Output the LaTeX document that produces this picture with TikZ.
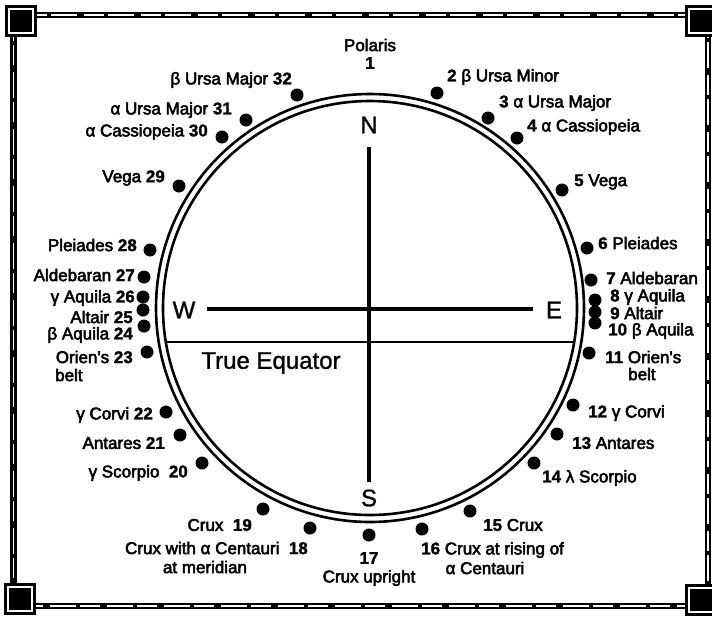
\documentclass[tikz,border=0pt]{standalone}
\usepackage{fontspec}
\setmainfont{Liberation Sans}
\newfontface\medfont{Liberation Sans}[FakeBold=3]
\newfontface\numfont{Liberation Sans Bold}[FakeBold=1.5]
\newfontface\cardfont{Liberation Sans}[FakeBold=1.2]
\newcommand{\stnum}[1]{{\numfont #1}}
\begin{document}
\begin{tikzpicture}[x=1pt,y=-1pt,
  stardot/.style={circle,fill=black,inner sep=0pt,minimum size=13pt},
  lab/.style={font=\medfont\fontsize{17}{19}\selectfont,inner sep=0pt},
  labR/.style={lab,anchor=west},
  labL/.style={lab,anchor=east},
  cardinal/.style={font=\cardfont\fontsize{24}{28}\selectfont,inner sep=0pt},
  rimline/.style={line width=2.6pt},
  axisline/.style={line width=3.8pt},
  eqline/.style={line width=2.1pt},
]
\useasboundingbox (0,0) rectangle (712,616);
% frame
\draw[line width=6.5pt] (13.5,15) rectangle (708,606);
\draw[white,line width=1.2pt,dash pattern=on 26pt off 4pt on 20pt off 7pt] (13.5,15) rectangle (708,606);
\foreach \cx/\cy in {21/21,701/21,20/599,701/600}{
  \fill[black] (\cx-16,\cy-16) rectangle (\cx+16,\cy+16);
  \fill[white] (\cx-13,\cy-13) rectangle (\cx+13,\cy+13);
  \fill[black] (\cx-11,\cy-11) rectangle (\cx+11,\cy+11);
}
% circle
\coordinate (O) at (370,308);
\draw[rimline] (O) circle[radius=214];
\draw[rimline] (O) circle[radius=207];
% axes
\coordinate (eqL) at (165.8,342);
\coordinate (eqR) at (574.2,342);
\draw[eqline] (eqL) -- (eqR);
\coordinate (ewL) at (207,309);
\coordinate (ewR) at (533,309);
\draw[axisline] (ewL) -- (ewR);
\coordinate (nsT) at (369,147);
\coordinate (nsB) at (369,482);
\draw[axisline] (nsT) -- (nsB);
\node[cardinal] (N) at (369,125) {N};
\node[cardinal] (S) at (369,498) {S};
\node[cardinal] (W) at (184,310) {W};
\node[cardinal] (E) at (554,310) {E};
\node[cardinal] (TE) at (271,363) {True Equator};
% Polaris
\node[lab] (l1a) at (370,45) {Polaris};
\node[lab] (l1) at (370,63) {\stnum{1}};
% right side
\node[stardot] (d2) at (437,93) {};   \node[labR] (l2) at (447,77) {\stnum{2} β Ursa Minor};
\node[stardot] (d3) at (488,118) {};  \node[labR] (l3) at (499,103) {\stnum{3} α Ursa Major};
\node[stardot] (d4) at (517,138) {};  \node[labR] (l4) at (527,127) {\stnum{4} α Cassiopeia};
\node[stardot] (d5) at (562,190) {};  \node[labR] (l5) at (574,182) {\stnum{5} Vega};
\node[stardot] (d6) at (587,248) {};  \node[labR] (l6) at (598,243) {\stnum{6} Pleiades};
\node[stardot] (d7) at (591,280) {};  \node[labR] (l7) at (606,278) {\stnum{7} Aldebaran};
\node[stardot] (d8) at (595,300) {};  \node[labR] (l8) at (610,297) {\stnum{8} γ Aquila};
\node[stardot] (d9) at (595,312) {};  \node[labR] (l9) at (610,313) {\stnum{9} Altair};
\node[stardot] (d10) at (595,323) {}; \node[labR] (l10) at (608,331) {\stnum{10} β Aquila};
\node[stardot] (d11) at (589,353) {}; \node[labR] (l11) at (605,357) {\stnum{11} Orien's};
\node[labR] (l11b) at (628,374) {belt};
\node[stardot] (d12) at (573,405) {}; \node[labR] (l12) at (588,413) {\stnum{12} γ Corvi};
\node[stardot] (d13) at (557,434) {}; \node[labR] (l13) at (572,443) {\stnum{13} Antares};
\node[stardot] (d14) at (534,463) {}; \node[labR] (l14) at (542,478) {\stnum{14} λ Scorpio};
\node[stardot] (d15) at (470,511) {}; \node[labR] (l15) at (483,525) {\stnum{15} Crux};
\node[stardot] (d16) at (422,529) {}; \node[labR] (l16) at (421,550) {\stnum{16} Crux at rising of};
\node[lab] (l16b) at (485,568) {α Centauri};
\node[stardot] (d17) at (369,535) {}; \node[lab] (l17) at (369,558) {\stnum{17}};
\node[lab] (l17b) at (369,578) {Crux upright};
% left side
\node[stardot] (d18) at (310,528) {}; \node[labL] (l18) at (308,548) {Crux with α Centauri\ \ \stnum{18}};
\node[lab] (l18b) at (205,567) {at meridian};
\node[stardot] (d19) at (263,509) {}; \node[labL] (l19) at (252,525) {Crux\ \ \stnum{19}};
\node[stardot] (d20) at (202,463) {}; \node[labL] (l20) at (188,473) {γ Scorpio\ \ \stnum{20}};
\node[stardot] (d21) at (180,435) {}; \node[labL] (l21) at (165,443) {Antares \stnum{21}};
\node[stardot] (d22) at (166,412) {}; \node[labL] (l22) at (153,415) {γ Corvi \stnum{22}};
\node[stardot] (d23) at (147,352) {}; \node[labL] (l23) at (133,357) {Orien's \stnum{23}};
\node[labR] (l23b) at (55,375) {belt};
\node[stardot] (d24) at (144,326) {}; \node[labL] (l24) at (133,335) {β Aquila \stnum{24}};
\node[stardot] (d25) at (143,310) {}; \node[labL] (l25) at (133,317) {Altair \stnum{25}};
\node[stardot] (d26) at (143,297) {}; \node[labL] (l26) at (135,298) {γ Aquila \stnum{26}};
\node[stardot] (d27) at (144,277) {}; \node[labL] (l27) at (135,275) {Aldebaran \stnum{27}};
\node[stardot] (d28) at (150,250) {}; \node[labL] (l28) at (137,245) {Pleiades \stnum{28}};
\node[stardot] (d29) at (179,186) {}; \node[labL] (l29) at (165,178) {Vega \stnum{29}};
\node[stardot] (d30) at (222,137) {}; \node[labL] (l30) at (208,132) {α Cassiopeia \stnum{30}};
\node[stardot] (d31) at (246,120) {}; \node[labL] (l31) at (232,110) {α Ursa Major \stnum{31}};
\node[stardot] (d32) at (297,95) {};  \node[labL] (l32) at (292,80) {β Ursa Major \stnum{32}};
\end{tikzpicture}
\end{document}
